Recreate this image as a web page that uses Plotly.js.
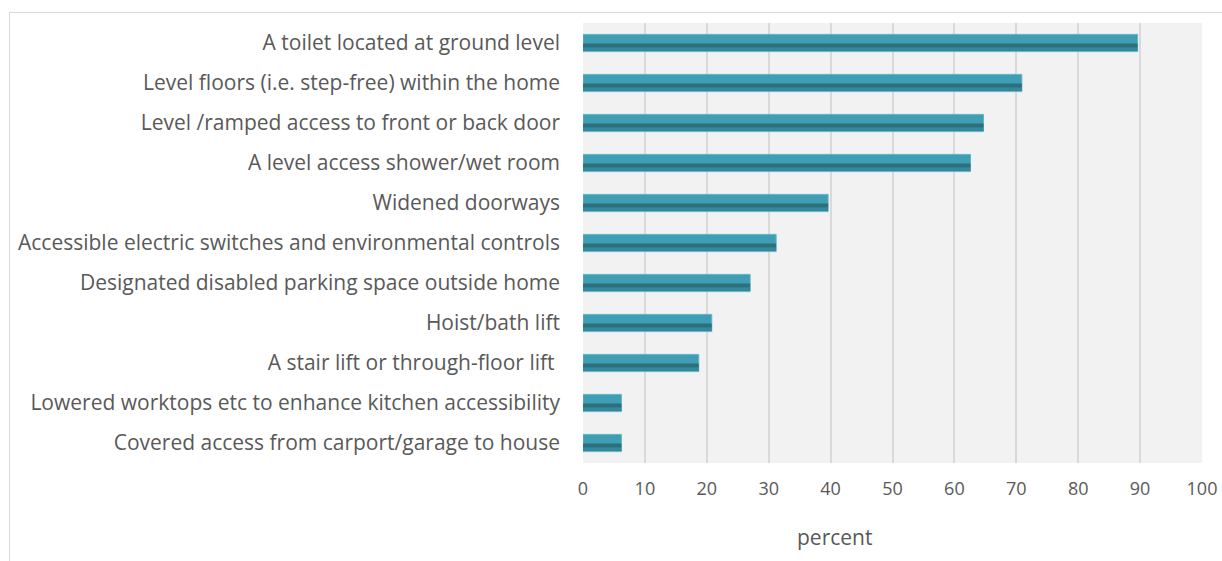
<!DOCTYPE html>
<html>
<head>
<meta charset="utf-8">
<script src="https://cdn.plot.ly/plotly-3.0.1.min.js"></script>
<style>
  html, body { margin: 0; padding: 0; background: #ffffff; }
  #frame { position: absolute; left: 9px; top: 12px; width: 1400px; height: 700px; border: 1.5px solid #d9d9d9; box-sizing: border-box; }
  #chart { position: absolute; left: 0; top: 0; width: 1222px; height: 561px; }
</style>
</head>
<body>
<div id="frame"></div>
<div id="chart"></div>
<script>
const categories = [
  "A toilet located at ground level",
  "Level floors (i.e. step-free) within the home",
  "Level /ramped access to front or back door",
  "A level access shower/wet room",
  "Widened doorways",
  "Accessible electric switches and environmental controls",
  "Designated disabled parking space outside home",
  "Hoist/bath lift",
  "A stair lift or through-floor lift ",
  "Lowered worktops etc to enhance kitchen accessibility",
  "Covered access from carport/garage to house"
];
const percentValues = [89.6, 70.9, 64.7, 62.6, 39.6, 31.2, 27.0, 20.8, 18.7, 6.2, 6.2];
const xTickValues = [0, 10, 20, 30, 40, 50, 60, 70, 80, 90, 100];
const xTitle = "percent";

const fontFamily = "'Open Sans', sans-serif";

const traces = [
  {
    type: "bar", orientation: "h",
    y: categories, x: percentValues,
    width: 0.43,
    marker: { color: "#3e9fb4", line: { color: "#62b5c6", width: 1 } },
    hoverinfo: "x+y"
  },
  {
    type: "bar", orientation: "h",
    y: categories, x: percentValues,
    width: 0.11, offset: 0.01,
    marker: { color: "#2e6f7c", line: { width: 0 } },
    hoverinfo: "skip"
  },
  {
    type: "bar", orientation: "h",
    y: categories, x: percentValues,
    width: 0.08, offset: 0.12,
    marker: { color: "#37879a", line: { width: 0 } },
    hoverinfo: "skip"
  }
];

const layout = {
  width: 1222, height: 561,
  margin: { l: 583, r: 20, t: 23, b: 98 },
  paper_bgcolor: "rgba(0,0,0,0)",
  plot_bgcolor: "#f2f2f2",
  barmode: "overlay",
  showlegend: false,
  font: { family: fontFamily, color: "#595959" },
  xaxis: {
    range: [0, 100],
    tickvals: xTickValues,
    showgrid: true, gridcolor: "#d9d9d9", gridwidth: 2,
    zeroline: false, showline: false,
    ticks: "", ticklabelstandoff: 13,
    tickfont: { size: 18, color: "#595959", family: fontFamily },
    fixedrange: true
  },
  yaxis: {
    type: "category",
    autorange: "reversed",
    showgrid: false, zeroline: false, showline: false,
    ticks: "", ticklabelstandoff: 22,
    tickfont: { size: 21, color: "#595959", family: fontFamily },
    fixedrange: true
  },
  annotations: [
    {
      text: xTitle, xref: "paper", yref: "paper",
      x: 0.407, y: -0.168, xanchor: "center", yanchor: "middle",
      showarrow: false, font: { size: 21, color: "#595959", family: fontFamily }
    }
  ]
};

Plotly.newPlot("chart", traces, layout, { displayModeBar: false, staticPlot: true });
</script>
</body>
</html>
